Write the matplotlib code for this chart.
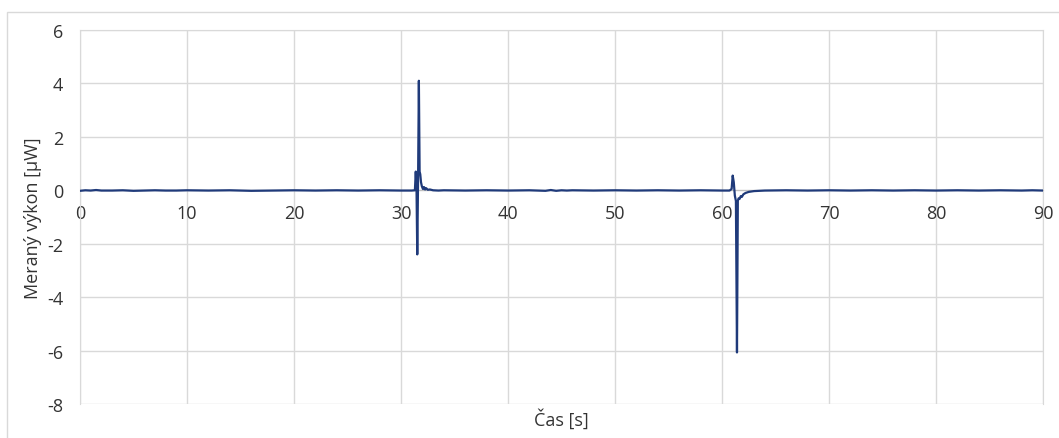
import matplotlib.pyplot as plt
from matplotlib.patches import Rectangle

cas = [0.0, 0.5, 1.0, 1.5, 2.0, 3.0, 4.0, 5.0, 6.0, 7.0, 8.0, 9.0, 10.0,
       12.0, 14.0, 16.0, 18.0, 20.0, 22.0, 24.0, 26.0, 28.0, 30.0, 31.0,
       31.3, 31.38, 31.45, 31.52, 31.6, 31.67, 31.74, 31.8, 31.87, 31.95,
       32.05, 32.15, 32.25, 32.35, 32.5, 32.7, 33.0, 33.5, 34.0, 36.0,
       38.0, 40.0, 42.0, 43.5, 44.0, 44.5, 45.0, 45.5, 46.0, 48.0, 50.0,
       52.0, 54.0, 56.0, 58.0, 60.0, 60.7, 60.9, 61.0, 61.1, 61.2, 61.3,
       61.4, 61.48, 61.55, 61.65, 61.75, 61.85, 62.0, 62.2, 62.5, 63.0,
       63.5, 64.0, 66.0, 68.0, 70.0, 72.0, 74.0, 76.0, 78.0, 80.0, 82.0,
       84.0, 86.0, 88.0, 89.0, 90.0]
vykon = [-0.02, 0.0, -0.01, 0.01, -0.01, -0.01, 0.0, -0.02, -0.01, 0.0,
         -0.01, -0.01, 0.0, -0.01, 0.0, -0.02, -0.01, 0.0, -0.01, 0.0,
         -0.01, 0.0, -0.01, -0.01, 0.0, 0.7, 0.1, -2.4, 0.6, 4.1, 0.7,
         0.6, 0.3, 0.15, 0.05, 0.12, 0.03, 0.08, 0.02, 0.03, 0.0, -0.01,
         0.0, -0.01, 0.0, -0.01, 0.0, -0.02, 0.01, -0.02, 0.0, -0.01,
         0.0, -0.01, 0.0, -0.01, 0.0, -0.01, 0.0, -0.01, -0.01, 0.05, 0.55,
         0.3, -0.2, -0.4, -6.07, -0.4, -0.3, -0.32, -0.22, -0.25, -0.15,
         -0.1, -0.06, -0.03, -0.02, -0.01, 0.0, -0.01, 0.0, -0.01, 0.0,
         -0.01, 0.0, -0.01, 0.0, -0.01, 0.0, -0.01, 0.0, -0.01]

x_ticks = list(range(0, 91, 10))
y_ticks = list(range(-8, 7, 2))

plt.rcParams['font.family'] = ['Open Sans', 'DejaVu Sans']
plt.rcParams['axes.unicode_minus'] = False
grid_col = '#d9d9d9'
text_col = '#333333'

fig = plt.figure(figsize=(10.59, 4.39), dpi=100)
fig.patches.append(Rectangle((7 / 1059, -0.05), 1.1, (439 - 13) / 439 + 0.05,
                             transform=fig.transFigure, fill=False,
                             edgecolor=grid_col, linewidth=1))
ax = fig.add_axes([80 / 1059, (439 - 405) / 439, 963 / 1059, 374 / 439])

ax.plot(cas, vykon, color='#1f3a7a', linewidth=1.6, zorder=3)

ax.set_xlim(0, 90)
ax.set_ylim(-8, 6)
ax.set_xticks(x_ticks)
ax.set_yticks(y_ticks)
ax.grid(True, color=grid_col, linewidth=1)
ax.set_axisbelow(True)
for s in ax.spines.values():
    s.set_color(grid_col)
ax.spines['bottom'].set_position(('data', 0))
ax.spines['bottom'].set_color('#bfbfbf')
ax.tick_params(length=0, labelsize=13, colors=text_col)
ax.tick_params(axis='x', pad=10)
ax.tick_params(axis='y', pad=12)

ax.set_ylabel('Meraný výkon [µW]', fontsize=13, color=text_col, labelpad=4)
fig.text(561 / 1059, 1 - 419 / 439, 'Čas [s]', fontsize=13, color=text_col,
         ha='center', va='center')

fig.savefig('out.png', dpi=100)
